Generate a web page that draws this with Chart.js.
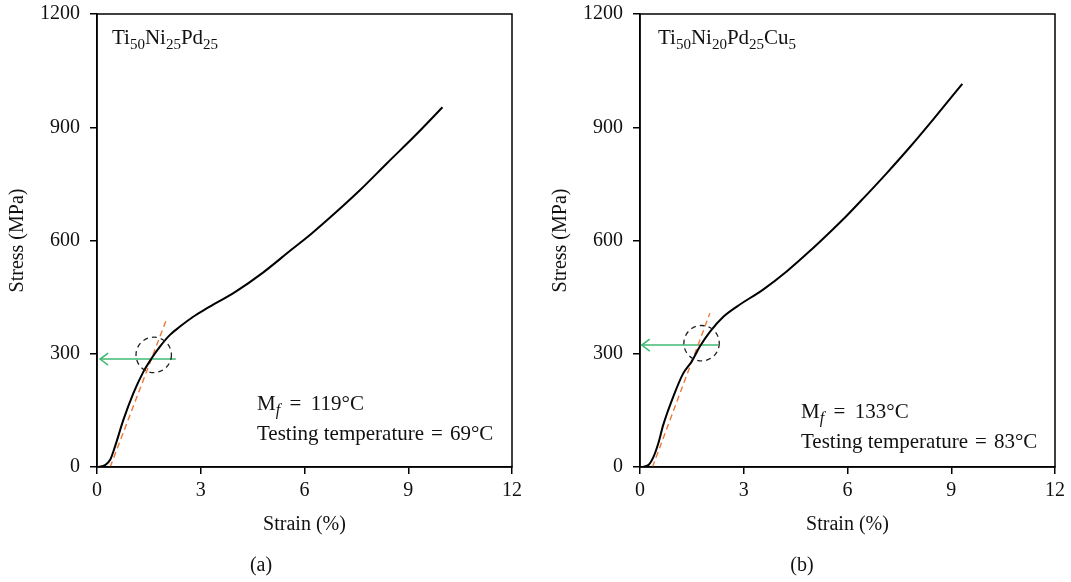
<!DOCTYPE html>
<html>
<head>
<meta charset="utf-8">
<script src="https://cdn.jsdelivr.net/npm/chart.js@4.4.0/dist/chart.umd.min.js"></script>
<style>
  html, body { margin: 0; padding: 0; background: #fff; }
  #wrap { position: relative; width: 1071px; height: 582px; overflow: hidden; }
  .panel { position: absolute; top: 0; }
</style>
</head>
<body>
<div id="wrap">
  <div class="panel" style="left:0"><canvas id="chartA" width="535" height="582"></canvas></div>
  <div class="panel" style="left:543px"><canvas id="chartB" width="528" height="582"></canvas></div>
</div>
<script>
// Axis ticks
const strainTicks = [0, 3, 6, 9, 12];
const stressTicks = [0, 300, 600, 900, 1200];

// (a) Ti50Ni25Pd25 stress-strain curve
const strainA = [0.05, 0.23, 0.38, 0.52, 0.76, 1.05, 1.34, 1.58, 1.82, 2.11, 2.40, 2.78, 3.17, 4.0, 4.8, 5.6, 6.2, 6.9, 7.6, 8.4, 9.2, 9.99];
const stressA = [0, 5, 19, 54, 124, 195, 252, 288, 319, 350, 372, 398, 420, 464, 515, 574, 618, 674, 733, 806, 878, 953];
// elastic fit line, Mf arrow, circled point
const fitA = [[0.38, 0], [2.03, 396]];
const arrowA = [[2.28, 286], [0.09, 286]];
const circleA = [1.64, 297];

// (b) Ti50Ni20Pd25Cu5 stress-strain curve
const strainB = [0.05, 0.24, 0.39, 0.53, 0.67, 0.96, 1.25, 1.49, 1.73, 2.02, 2.41, 2.80, 3.56, 4.24, 4.91, 5.49, 5.97, 6.45, 7.13, 7.80, 8.48, 9.32];
const stressB = [0, 5, 27, 63, 111, 186, 248, 279, 319, 358, 398, 425, 470, 518, 572, 622, 665, 711, 778, 847, 921, 1015];
const fitB = [[0.36, 0], [2.02, 407]];
const arrowB = [[2.26, 323], [0.05, 323]];
const circleB = [1.78, 328];

const SERIF = '"Liberation Serif", "DejaVu Serif", serif';
const ORANGE = '#ec7a36';
const GREEN = '#3fb873';

function pts(xs, ys) { return xs.map((v, i) => ({ x: v, y: ys[i] })); }
function pairs(arr) { return arr.map(p => ({ x: p[0], y: p[1] })); }

// draw text made of normal / subscript runs
function drawRuns(ctx, runs, x, y) {
  let cx = x;
  runs.forEach(([txt, kind]) => {
    let dy = 0;
    if (kind === 'n') ctx.font = '21px ' + SERIF;
    if (kind === 's') { ctx.font = '15px ' + SERIF; dy = 5; }
    if (kind === 'i') { ctx.font = 'italic 16px ' + SERIF; dy = 5; }
    ctx.fillText(txt, cx, y + dy);
    cx += ctx.measureText(txt).width;
  });
}

const panelDecor = {
  id: 'panelDecor',
  afterDatasetsDraw(chart, args, opts) {
    const { ctx, chartArea: a, scales: { x, y } } = chart;
    ctx.save();
    // box frame
    ctx.strokeStyle = '#000';
    ctx.lineWidth = 1.5;
    ctx.strokeRect(a.left, a.top, a.right - a.left, a.bottom - a.top);

    // dashed circle
    ctx.setLineDash([5, 4]);
    ctx.lineWidth = 1.3;
    ctx.strokeStyle = '#222';
    ctx.beginPath();
    ctx.arc(x.getPixelForValue(opts.circle[0]), y.getPixelForValue(opts.circle[1]), 17.7, 0, Math.PI * 2);
    ctx.stroke();
    ctx.setLineDash([]);

    // arrow head at the end of the green line
    const meta = chart.getDatasetMeta(2);
    const tip = meta.data[meta.data.length - 1];
    ctx.strokeStyle = GREEN;
    ctx.lineWidth = 1.5;
    ctx.beginPath();
    ctx.moveTo(tip.x + 8, tip.y - 6);
    ctx.lineTo(tip.x, tip.y);
    ctx.lineTo(tip.x + 8, tip.y + 6);
    ctx.stroke();

    // texts
    ctx.fillStyle = '#111';
    ctx.textBaseline = 'alphabetic';
    ctx.textAlign = 'left';
    drawRuns(ctx, opts.title, opts.titlePos[0], opts.titlePos[1]);
    drawRuns(ctx, opts.mf, opts.notePos[0], opts.notePos[1]);
    drawRuns(ctx, [[opts.testing, 'n']], opts.notePos[0], opts.notePos[1] + 30);

    ctx.font = '20px ' + SERIF;
    ctx.textAlign = 'center';
    ctx.fillText(opts.caption, opts.captionX, 571);
    ctx.restore();
  }
};

function makeChart(id, curve, fit, arrow, decor, padRight) {
  const tickFont = { family: SERIF, size: 20 };
  return new Chart(document.getElementById(id), {
    type: 'line',
    data: {
      datasets: [
        { data: curve, borderColor: '#000', borderWidth: 2, pointRadius: 0, cubicInterpolationMode: 'monotone' },
        { data: fit, borderColor: ORANGE, borderWidth: 1.4, borderDash: [6, 4], pointRadius: 0 },
        { data: arrow, borderColor: GREEN, borderWidth: 1.5, pointRadius: 0 }
      ]
    },
    options: {
      responsive: false,
      animation: false,
      layout: { padding: { left: 0, top: 14, right: padRight, bottom: 45 } },
      plugins: { legend: { display: false }, tooltip: { enabled: false }, panelDecor: decor },
      scales: {
        x: {
          type: 'linear', min: 0, max: 12,
          afterBuildTicks: s => { s.ticks = strainTicks.map(v => ({ value: v })); },
          afterFit: s => { s.height = 70; },
          ticks: { font: tickFont, color: '#111', padding: 5, maxRotation: 0, callback: v => String(v) },
          grid: { drawOnChartArea: false, drawTicks: true, tickLength: 7, color: '#000', lineWidth: 1.5 },
          border: { display: true, color: '#000', width: 1.5 },
          title: { display: true, text: 'Strain (%)', font: tickFont, color: '#111', padding: { top: 0, bottom: 0 } }
        },
        y: {
          type: 'linear', min: 0, max: 1200,
          afterBuildTicks: s => { s.ticks = stressTicks.map(v => ({ value: v })); },
          afterFit: s => { s.width = 97; s.paddingTop = 0; s.paddingBottom = 0; },
          ticks: { font: tickFont, color: '#111', padding: 10, callback: v => String(v) },
          grid: { drawOnChartArea: false, drawTicks: true, tickLength: 7, color: '#000', lineWidth: 1.5 },
          border: { display: true, color: '#000', width: 1.5 },
          title: { display: true, text: 'Stress (MPa)', font: tickFont, color: '#111', padding: { top: 6, bottom: 0 } }
        }
      }
    },
    plugins: [panelDecor]
  });
}

makeChart('chartA', pts(strainA, stressA), pairs(fitA), pairs(arrowA), {
  circle: circleA,
  title: [['Ti', 'n'], ['50', 's'], ['Ni', 'n'], ['25', 's'], ['Pd', 'n'], ['25', 's']],
  titlePos: [112, 44],
  mf: [['M', 'n'], ['f', 'i'], [' \u2009=\u2009 119°C', 'n']],
  testing: 'Testing temperature \u200a=\u200a 69°C',
  notePos: [257, 410],
  caption: '(a)',
  captionX: 261
}, 23);

makeChart('chartB', pts(strainB, stressB), pairs(fitB), pairs(arrowB), {
  circle: circleB,
  title: [['Ti', 'n'], ['50', 's'], ['Ni', 'n'], ['20', 's'], ['Pd', 'n'], ['25', 's'], ['Cu', 'n'], ['5', 's']],
  titlePos: [115, 44],
  mf: [['M', 'n'], ['f', 'i'], [' \u2009=\u2009 133°C', 'n']],
  testing: 'Testing temperature \u200a=\u200a 83°C',
  notePos: [258, 418],
  caption: '(b)',
  captionX: 259
}, 16);
</script>
</body>
</html>
